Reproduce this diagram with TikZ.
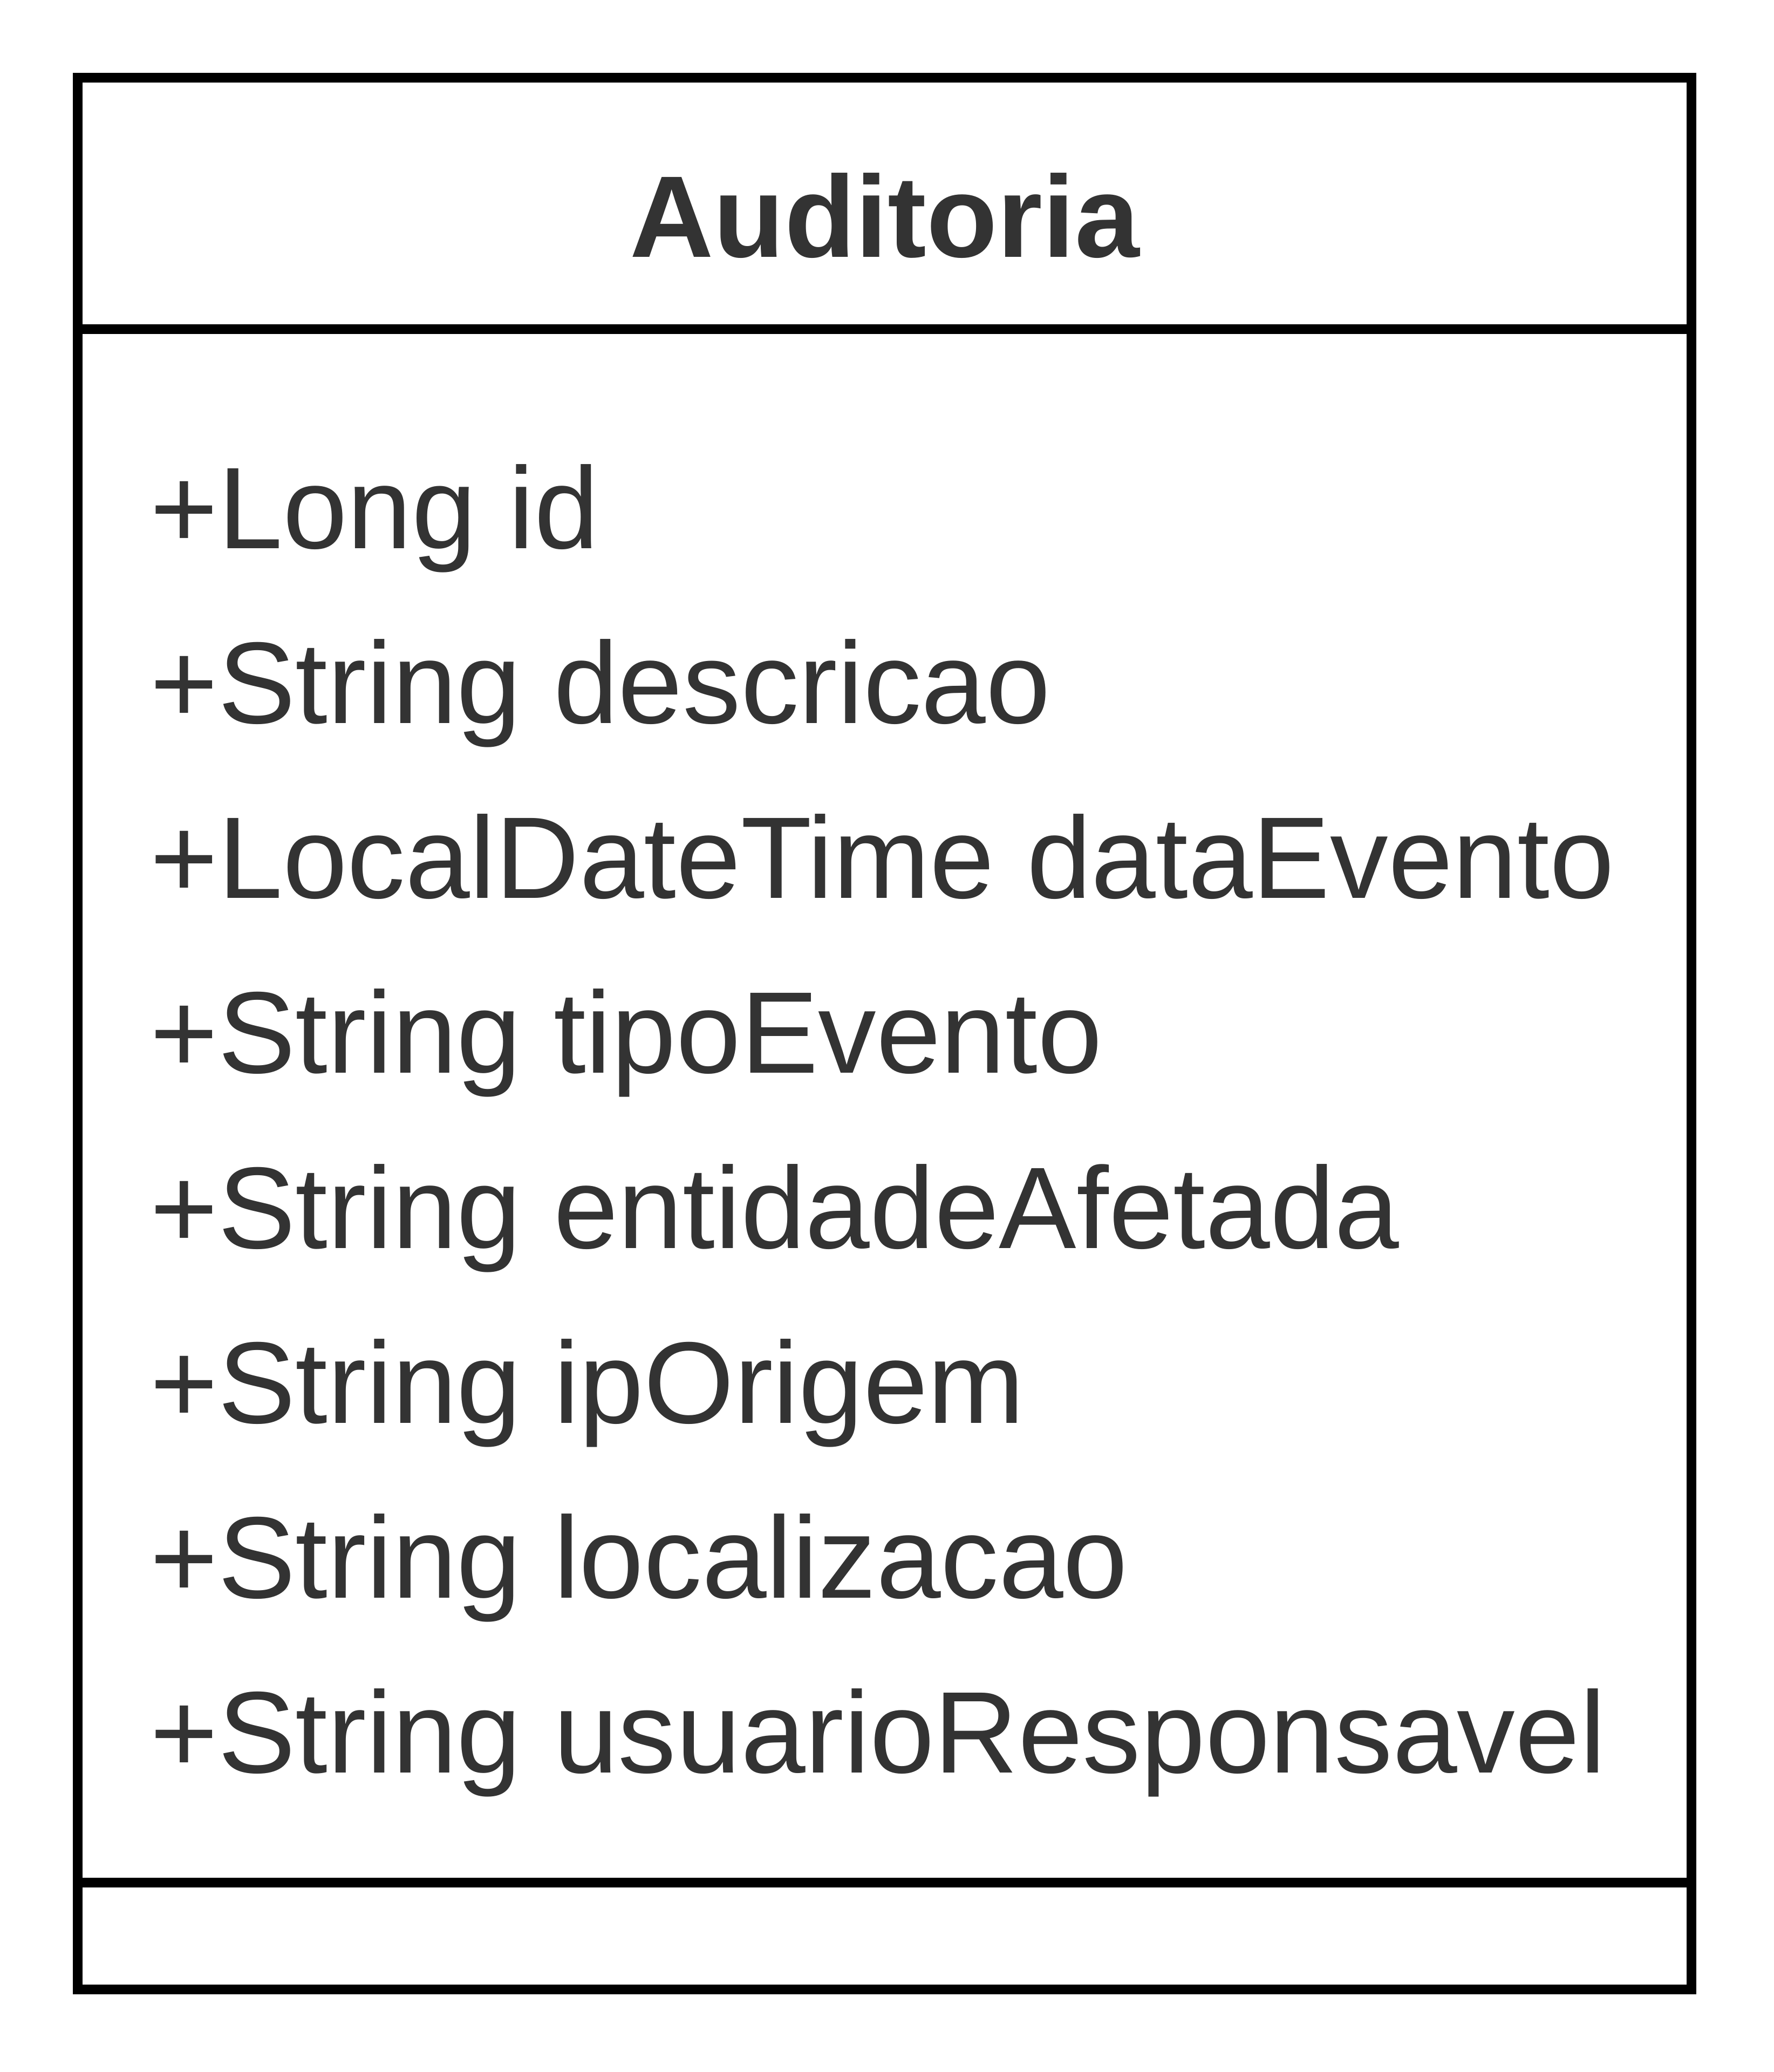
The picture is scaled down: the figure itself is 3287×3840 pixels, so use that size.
\documentclass[tikz,border=0pt]{standalone}
\usepackage{fontspec}
\setmainfont{Liberation Sans}
\definecolor{txt}{HTML}{333333}
\begin{document}
\begin{tikzpicture}[x=0.01cm,y=-0.01cm,
  boxline/.style={draw=black,line width=0.18cm},
  title/.style={anchor=base,inner sep=0pt,text=txt,font=\fontsize{61.2pt}{73pt}\selectfont\bfseries},
  attr/.style={anchor=base west,inner sep=0pt,text=txt,font=\fontsize{61.2pt}{73pt}\selectfont}]
\useasboundingbox (0,0) rectangle (3287,3840);
% class box with its three compartments
\coordinate (tl) at (144,144);
\coordinate (br) at (3135,3687);
\coordinate (h1) at (144,610);
\coordinate (h2) at (3135,610);
\coordinate (f1) at (144,3489);
\coordinate (f2) at (3135,3489);
\fill[white] (tl) rectangle (br);
\draw[boxline] (tl) rectangle (br);
\draw[boxline] (h1) -- (h2);
\draw[boxline] (f1) -- (f2);
% class name
\node[title] (name) at (1639.5,477) {Auditoria};
% attributes
\node[attr] (a1) at (278,1016) {+Long id};
\node[attr] (a2) at (278,1340) {+String descricao};
\node[attr] (a3) at (278,1664) {+LocalDateTime dataEvento};
\node[attr] (a4) at (278,1988) {+String tipoEvento};
\node[attr] (a5) at (278,2313) {+String entidadeAfetada};
\node[attr] (a6) at (278,2637) {+String ipOrigem};
\node[attr] (a7) at (278,2961) {+String localizacao};
\node[attr] (a8) at (278,3285) {+String usuarioResponsavel};
\end{tikzpicture}
\end{document}
